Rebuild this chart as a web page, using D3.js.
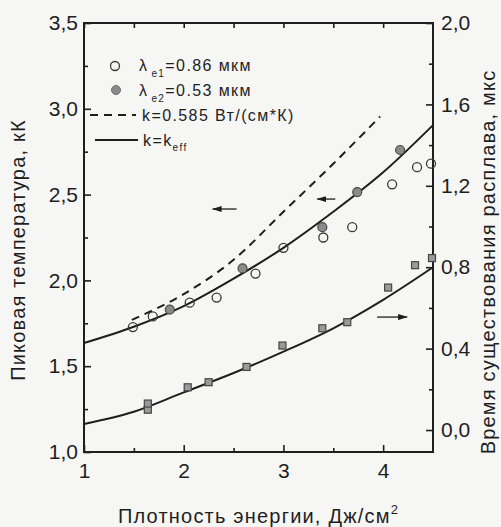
<!DOCTYPE html>
<html lang="ru">
<head>
<meta charset="UTF-8">
<title>Пиковая температура и время существования расплава</title>
<script src="https://cdn.jsdelivr.net/npm/d3@7"></script>
<style>
  body { margin: 0; background: #f6f6f5; }
  svg { display: block; font-family: "Liberation Sans", Arial, sans-serif; }
</style>
</head>
<body>
<div id="container"></div>
<script>
// fitted curves
var energyFit = [1.0, 1.5, 2.0, 2.5, 3.0, 3.5, 4.0, 4.5];
var tempFit = [1.635, 1.73, 1.85, 2.01, 2.19, 2.40, 2.63, 2.905];   // k = k_eff, left axis
var timeFit = [0.03, 0.09, 0.185, 0.28, 0.385, 0.50, 0.64, 0.80];   // k = k_eff, right axis
var energyDash = [1.48, 2.0, 2.5, 3.0, 3.5, 3.97];
var tempDash = [1.77, 1.92, 2.12, 2.40, 2.68, 2.955];               // k = 0.585

// measured points
var openE = [1.49, 1.69, 2.06, 2.33, 2.72, 3.0, 3.40, 3.69, 4.09, 4.34, 4.48];
var openT = [1.728, 1.79, 1.87, 1.90, 2.04, 2.19, 2.25, 2.31, 2.56, 2.66, 2.68];
var grayE = [1.86, 2.59, 3.39, 3.74, 4.17];
var grayT = [1.83, 2.07, 2.31, 2.515, 2.76];
var squareE = [1.64, 1.64, 2.04, 2.25, 2.63, 2.99, 3.39, 3.64, 4.05, 4.32, 4.49];
var squareT = [0.10, 0.13, 0.21, 0.235, 0.31, 0.415, 0.50, 0.53, 0.70, 0.81, 0.845];

// ticks
var energyTicks = [1, 2, 3, 4];
var energyLabels = ["1", "2", "3", "4"];
var energyMinor = [1.5, 2.5, 3.5];
var tempTicks = [1.0, 1.5, 2.0, 2.5, 3.0, 3.5];
var tempLabels = ["1,0", "1,5", "2,0", "2,5", "3,0", "3,5"];
var tempMinor = [1.25, 1.75, 2.25, 2.75, 3.25];
var timeTicks = [0, 0.4, 0.8, 1.2, 1.6, 2.0];
var timeLabels = ["0,0", "0,4", "0,8", "1,2", "1,6", "2,0"];
var timeMinor = [0.2, 0.6, 1.0, 1.4, 1.8];

var width = 501, height = 527;
var plotLeft = 84, plotRight = 433, plotTop = 23, plotBottom = 452;
var ink = "#1e1e1e";

var svg = d3.select("#container").append("svg")
  .attr("width", width)
  .attr("height", height);

var x = d3.scaleLinear().domain([1, 4.5]).range([plotLeft, plotRight]);
var yT = d3.scaleLinear().domain([1, 3.5]).range([plotBottom, plotTop]);
var yt = d3.scaleLinear().domain([-0.108, 2.0]).range([plotBottom, plotTop]);

// axes, ticks pointing inward
function styleAxis(g) {
  g.select(".domain").remove();
  g.selectAll("line").attr("stroke", ink).attr("stroke-width", 1.6);
  g.selectAll("text").attr("fill", ink).attr("font-size", 21)
    .attr("font-family", "Liberation Sans, Arial, sans-serif");
}

svg.append("g").attr("transform", "translate(0," + plotBottom + ")")
  .call(d3.axisBottom(x).tickValues(energyTicks).tickFormat(function (d, i) { return energyLabels[i]; })
    .tickSizeInner(-7).tickSizeOuter(0).tickPadding(11))
  .call(styleAxis);
svg.append("g").attr("transform", "translate(0," + plotBottom + ")")
  .call(d3.axisBottom(x).tickValues(energyMinor).tickFormat("").tickSizeInner(-4).tickSizeOuter(0))
  .call(styleAxis);
svg.append("g").attr("transform", "translate(0," + plotTop + ")")
  .call(d3.axisTop(x).tickValues(energyTicks.concat(energyMinor)).tickFormat("").tickSizeInner(-5).tickSizeOuter(0))
  .call(styleAxis);

svg.append("g").attr("transform", "translate(" + plotLeft + ",0)")
  .call(d3.axisLeft(yT).tickValues(tempTicks).tickFormat(function (d, i) { return tempLabels[i]; })
    .tickSizeInner(-7).tickSizeOuter(0).tickPadding(6))
  .call(styleAxis);
svg.append("g").attr("transform", "translate(" + plotLeft + ",0)")
  .call(d3.axisLeft(yT).tickValues(tempMinor).tickFormat("").tickSizeInner(-4).tickSizeOuter(0))
  .call(styleAxis);

svg.append("g").attr("transform", "translate(" + plotRight + ",0)")
  .call(d3.axisRight(yt).tickValues(timeTicks).tickFormat(function (d, i) { return timeLabels[i]; })
    .tickSizeInner(-7).tickSizeOuter(0).tickPadding(8))
  .call(styleAxis);
svg.append("g").attr("transform", "translate(" + plotRight + ",0)")
  .call(d3.axisRight(yt).tickValues(timeMinor).tickFormat("").tickSizeInner(-4).tickSizeOuter(0))
  .call(styleAxis);

// frame
svg.append("rect")
  .attr("x", plotLeft).attr("y", plotTop)
  .attr("width", plotRight - plotLeft).attr("height", plotBottom - plotTop)
  .attr("fill", "none").attr("stroke", ink).attr("stroke-width", 2);

// curves
var lineT = d3.line().x(function (d) { return x(d[0]); }).y(function (d) { return yT(d[1]); }).curve(d3.curveMonotoneX);
var linet = d3.line().x(function (d) { return x(d[0]); }).y(function (d) { return yt(d[1]); }).curve(d3.curveMonotoneX);

svg.append("path")
  .attr("d", lineT(d3.zip(energyDash, tempDash)))
  .attr("fill", "none").attr("stroke", ink).attr("stroke-width", 2)
  .attr("stroke-dasharray", "8,6");
svg.append("path")
  .attr("d", lineT(d3.zip(energyFit, tempFit)))
  .attr("fill", "none").attr("stroke", ink).attr("stroke-width", 2);
svg.append("path")
  .attr("d", linet(d3.zip(energyFit, timeFit)))
  .attr("fill", "none").attr("stroke", ink).attr("stroke-width", 2);

// points
svg.append("g").selectAll("circle")
  .data(d3.zip(openE, openT))
  .join("circle")
  .attr("cx", function (d) { return x(d[0]); })
  .attr("cy", function (d) { return yT(d[1]); })
  .attr("r", 4.5)
  .attr("fill", "none").attr("stroke", "#3a3a3a").attr("stroke-width", 1.3);

svg.append("g").selectAll("circle")
  .data(d3.zip(grayE, grayT))
  .join("circle")
  .attr("cx", function (d) { return x(d[0]); })
  .attr("cy", function (d) { return yT(d[1]); })
  .attr("r", 4.5)
  .attr("fill", "#8a8a8a").attr("stroke", "#4a4a4a").attr("stroke-width", 1.2);

svg.append("g").selectAll("rect")
  .data(d3.zip(squareE, squareT))
  .join("rect")
  .attr("x", function (d) { return x(d[0]) - 3.5; })
  .attr("y", function (d) { return yt(d[1]) - 3.5; })
  .attr("width", 7).attr("height", 7)
  .attr("fill", "#9a9a9a").attr("stroke", "#454545").attr("stroke-width", 1.2);

// arrows showing which axis each curve uses
svg.append("defs").append("marker")
  .attr("id", "head")
  .attr("viewBox", "0 0 10 6")
  .attr("refX", 9).attr("refY", 3)
  .attr("markerWidth", 10).attr("markerHeight", 6)
  .attr("markerUnits", "userSpaceOnUse")
  .attr("orient", "auto")
  .append("path").attr("d", "M0,0L10,3L0,6Z").attr("fill", ink);

var arrows = [
  { from: [2.53, 2.416], to: [2.29, 2.416], scale: yT },
  { from: [3.52, 2.474], to: [3.34, 2.474], scale: yT },
  { from: [3.94, 0.555], to: [4.24, 0.555], scale: yt }
];
svg.append("g").selectAll("line")
  .data(arrows)
  .join("line")
  .attr("x1", function (d) { return x(d.from[0]); })
  .attr("y1", function (d) { return d.scale(d.from[1]); })
  .attr("x2", function (d) { return x(d.to[0]); })
  .attr("y2", function (d) { return d.scale(d.to[1]); })
  .attr("stroke", ink).attr("stroke-width", 1.3)
  .attr("marker-end", "url(#head)");

// legend
var legend = svg.append("g")
  .attr("font-size", 16).attr("fill", ink).attr("letter-spacing", 1.4);

legend.append("circle").attr("cx", 115).attr("cy", 66).attr("r", 4.5)
  .attr("fill", "none").attr("stroke", "#3a3a3a").attr("stroke-width", 1.3);
legend.append("circle").attr("cx", 116).attr("cy", 90).attr("r", 4.5)
  .attr("fill", "#8a8a8a").attr("stroke", "#6a6a6a").attr("stroke-width", 1);
legend.append("line").attr("x1", 90).attr("x2", 136).attr("y1", 115).attr("y2", 115)
  .attr("stroke", ink).attr("stroke-width", 2).attr("stroke-dasharray", "8,6");
legend.append("line").attr("x1", 95).attr("x2", 138).attr("y1", 140).attr("y2", 140)
  .attr("stroke", ink).attr("stroke-width", 2);

function lambdaRow(y, sub, rest) {
  var t = legend.append("text").attr("x", 139).attr("y", y);
  t.append("tspan").text("λ");
  t.append("tspan").attr("dx", 3).attr("dy", 6).attr("font-size", 10).text(sub);
  t.append("tspan").attr("dy", -6).text(rest);
}
lambdaRow(71, "e1", "=0.86 мкм");
lambdaRow(96, "e2", "=0.53 мкм");
legend.append("text").attr("x", 142).attr("y", 121).text("k=0.585 Вт/(см*К)");
var kt = legend.append("text").attr("x", 143).attr("y", 146);
kt.append("tspan").text("k=k");
kt.append("tspan").attr("dy", 5).attr("font-size", 10).text("eff");

// axis titles
var titles = svg.append("g").attr("fill", ink).attr("font-size", 20).attr("letter-spacing", 1.2)
  .attr("text-anchor", "middle");
var xt = titles.append("text").attr("x", (plotLeft + plotRight) / 2).attr("y", 523);
xt.append("tspan").text("Плотность энергии, Дж/см");
xt.append("tspan").attr("dy", -9).attr("font-size", 13).text("2");

titles.append("text")
  .attr("transform", "translate(25,250) rotate(-90)")
  .text("Пиковая температура, кК");
titles.append("text")
  .attr("transform", "translate(495,262) rotate(-90)")
  .text("Время существования расплава, мкс");
</script>
</body>
</html>
